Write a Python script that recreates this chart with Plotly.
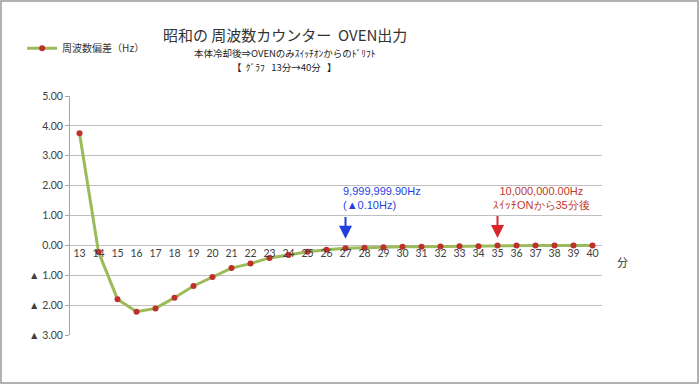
import plotly.graph_objects as go

minutes = list(range(13, 41))
deviation = [3.75, -0.22, -1.80, -2.22, -2.11, -1.75, -1.36, -1.06, -0.76, -0.61,
             -0.42, -0.32, -0.21, -0.15, -0.10, -0.08, -0.06, -0.05, -0.05, -0.04,
             -0.03, -0.03, 0.00, 0.00, 0.00, 0.00, 0.00, 0.00]
ytick_vals = [5, 4, 3, 2, 1, 0, -1, -2, -3]
ytick_text = ["5.00", "4.00", "3.00", "2.00", "1.00", "0.00", "▲ 1.00", "▲ 2.00", "▲ 3.00"]
series_name = "周波数偏差（Hz）"
title_main = "昭和の 周波数カウンター  OVEN出力"
title_sub1 = "本体冷却後⇒OVENのみｽｲｯﾁｵﾝからのﾄﾞﾘﾌﾄ"
title_sub2 = "【  ｸﾞﾗﾌ   13分→40分   】"

JP = "Noto Sans CJK JP"
NUM = "Lato"

fig = go.Figure()
fig.add_trace(go.Scatter(
    x=minutes, y=deviation, mode="lines+markers", name=series_name,
    line=dict(color="#9BBB59", width=3),
    marker=dict(color="#C0302B", size=6),
))

fig.update_layout(
    width=700, height=385,
    margin=dict(l=70, r=98, t=96, b=50, autoexpand=False),
    paper_bgcolor="white", plot_bgcolor="white",
    showlegend=True,
    legend=dict(x=-0.09, xanchor="left", y=1.2, yanchor="middle",
                font=dict(family=JP, size=10, color="#333333"),
                bgcolor="rgba(0,0,0,0)", itemwidth=30),
    xaxis=dict(range=[12.5, 40.5], tickvals=minutes, showgrid=False,
               anchor="free", position=0.375, showline=False, ticks="",
               zeroline=False, automargin=False,
               tickfont=dict(family=NUM, size=10.5, color="#404040")),
    yaxis=dict(range=[-3, 5], tickvals=ytick_vals, ticktext=ytick_text,
               showgrid=True, gridcolor="#BFBFBF", gridwidth=1,
               zeroline=False, showline=True, linecolor="#A6A6A6",
               ticks="outside", ticklen=4, tickcolor="#A6A6A6", automargin=False,
               tickfont=dict(family=NUM, size=10.5, color="#404040")),
    shapes=[dict(type="rect", xref="paper", yref="paper",
                 x0=-69/532, x1=1 + 96/532, y0=-48/239, y1=1 + 95/239,
                 line=dict(color="#999999", width=1.5))],
)

ann = []
ann.append(dict(xref="paper", yref="paper", x=0.404, y=(335 - 34) / 239,
                text=title_main, showarrow=False, xanchor="center", yanchor="middle",
                font=dict(family=JP, size=15, color="#333333")))
ann.append(dict(xref="paper", yref="paper", x=0.404, y=(335 - 53) / 239,
                text=title_sub1, showarrow=False, xanchor="center", yanchor="middle",
                font=dict(family=JP, size=9.5, color="#222222")))
ann.append(dict(xref="paper", yref="paper", x=0.404, y=(335 - 67) / 239,
                text=title_sub2, showarrow=False, xanchor="center", yanchor="middle",
                font=dict(family=JP, size=9.5, color="#222222")))
ann.append(dict(xref="paper", yref="paper", x=(622 - 70.5) / 531, y=(335 - 262) / 239,
                text="分", showarrow=False, xanchor="center", yanchor="middle",
                font=dict(family=JP, size=11, color="#333333")))
# blue
ann.append(dict(x=27, y=0.22, ax=27, ay=1.0, axref="x", ayref="y", xref="x", yref="y",
                text="", showarrow=True, arrowhead=2, arrowsize=1.3, arrowwidth=2,
                arrowcolor="#1F3FE0"))
ann.append(dict(x=26.75, y=1.57, xref="x", yref="y", xanchor="left", yanchor="middle",
                text="9,999,999.90Hz<br>(▲0.10Hz)", showarrow=False, align="left",
                font=dict(family="Liberation Sans", size=11, color="#1F3FE0")))
# red
ann.append(dict(x=35, y=0.25, ax=35, ay=1.03, axref="x", ayref="y", xref="x", yref="y",
                text="", showarrow=True, arrowhead=2, arrowsize=1.3, arrowwidth=2,
                arrowcolor="#D9262C"))
ann.append(dict(x=37.3, y=1.57, xref="x", yref="y", xanchor="center", yanchor="middle",
                text="10,000,000.00Hz<br>ｽｲｯﾁONから35分後", showarrow=False, align="center",
                font=dict(family="Liberation Sans", size=11, color="#C0392B")))
fig.update_layout(annotations=ann)

fig.write_html("out.html", config={"displayModeBar": False},
               post_script="document.body.style.margin='0';")
